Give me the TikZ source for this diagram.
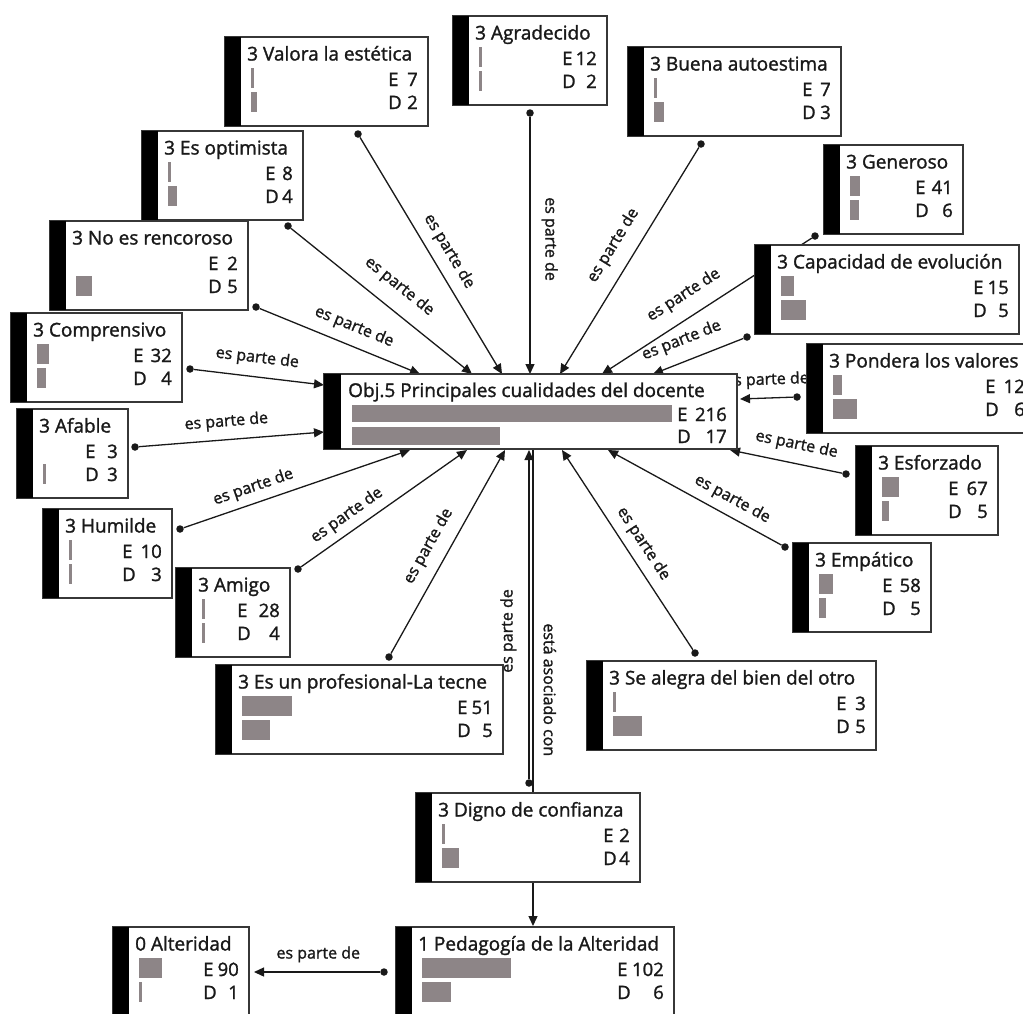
\documentclass[tikz,border=0pt]{standalone}
\usepackage{fontspec}
\setmainfont{Open Sans}[FakeBold=1.4]
\usetikzlibrary{arrows.meta,calc,backgrounds}

\definecolor{barc}{RGB}{141,133,135}
\definecolor{ink}{RGB}{25,25,25}
\definecolor{edge}{RGB}{55,55,55}

\tikzset{
  card/.style={draw=edge, line width=1.7pt, fill=white, inner sep=0pt, outer sep=0pt, anchor=north west},
  ttl/.style={anchor=base west, inner sep=0pt, text=ink, font=\fontsize{19}{21}\selectfont},
  row/.style={inner sep=0pt, text=ink, font=\fontsize{18.5}{21}\selectfont},
  dot/.style={circle, fill=ink, inner sep=0pt, minimum size=7.5pt},
  plain/.style={draw=ink, line width=1.3pt},
  conn/.style={plain, -{Triangle[length=10pt,width=9pt]}},
  rel/.style={sloped, inner sep=1pt, text=ink, font=\fontsize{16}{18}\selectfont},
}

% card: [height] name, x, y, width, title
\newcommand\qcard[6][89]{%
  \node[card, minimum width=#5pt, minimum height=#1pt] (#2) at (#3,#4) {};
  \fill[black] (#2.north west) rectangle ($(#2.south west)+(16,0)$);
  \node[ttl] (#2-t) at ($(#2.north west)+(22,23.5)$) {#6};
}
% bars and counts: name, E bar width, D bar width, E count, D count, letter offset from right edge
\newcommand\qbars[6]{%
  \ifdim#2pt>0pt \fill[barc] ($(#1.north west)+(26,31)$) rectangle ++(#2,20);\fi
  \ifdim#3pt>0pt \fill[barc] ($(#1.north west)+(26,55)$) rectangle ++(#3,20);\fi
  \node[row, anchor=base west] (#1-el) at ($(#1.north east)+(-#6,49)$) {E};
  \node[row, anchor=base east] (#1-en) at ($(#1.north east)+(-10,49)$) {#4};
  \node[row, anchor=base west] (#1-dl) at ($(#1.north east)+(-#6,72)$) {D};
  \node[row, anchor=base east] (#1-dn) at ($(#1.north east)+(-10,72)$) {#5};
}

\begin{document}
\begin{tikzpicture}[x=1pt, y=-1pt]
\useasboundingbox (0,0) rectangle (1023,1013);
\clip (0,0) rectangle (1023,1013);

% central code
\node[card, minimum width=413pt, minimum height=75pt] (obj) at (324,374) {};
\fill[black] (obj.north west) rectangle ($(obj.south west)+(17,0)$);
\node[ttl] (obj-t) at ($(obj.north west)+(24,23)$) {Obj.5 Principales cualidades del docente};
\fill[barc] ($(obj.north west)+(28,31)$) rectangle ++(320,17);
\fill[barc] ($(obj.north west)+(28,53)$) rectangle ++(148,18);
\node[row, anchor=base west] (obj-el) at ($(obj.north east)+(-60,47)$) {E};
\node[row, anchor=base east] (obj-en) at ($(obj.north east)+(-10,47)$) {216};
\node[row, anchor=base west] (obj-dl) at ($(obj.north east)+(-60,69)$) {D};
\node[row, anchor=base east] (obj-dn) at ($(obj.north east)+(-10,69)$) {17};

% surrounding codes
\qcard{valora}{225}{37}{203}{3 Valora la estética}
\qbars{valora}{2.5}{6}{7}{2}{40}
\qcard{optim}{142}{131}{161}{3 Es optimista}
\qbars{optim}{2.5}{9}{8}{4}{38}
\qcard{rencor}{50}{221}{198}{3 No es rencoroso}
\qbars{rencor}{0}{16}{2}{5}{40}
\qcard{compr}{11}{313}{171}{3 Comprensivo}
\qbars{compr}{12}{9}{32}{4}{49}
\qcard{afable}{17}{409}{111}{3 Afable}
\qbars{afable}{0}{2.5}{3}{3}{43}
\qcard{humil}{43}{509}{129}{3 Humilde}
\qbars{humil}{2.5}{2.5}{10}{3}{50}
\qcard{amigo}{176}{568}{114}{3 Amigo}
\qbars{amigo}{2.5}{2.5}{28}{4}{53}
\qcard{prof}{216}{665}{287}{3 Es un profesional-La tecne}
\qbars{prof}{50}{28}{51}{5}{46}
\qcard{digno}{416}{793}{224}{3 Digno de confianza}
\qbars{digno}{2.5}{17}{2}{4}{37}
\qcard[95]{pedag}{396}{927}{278}{1 Pedagogía de la Alteridad}
\qbars{pedag}{89}{29}{102}{6}{57}
\qcard[95]{alter}{113}{927}{136}{0 Alteridad}
\qbars{alter}{23}{2.5}{90}{1}{46}
\qcard{alegra}{587}{661}{289}{3 Se alegra del bien del otro}
\qbars{alegra}{2.5}{29}{3}{5}{40}
\qcard{empat}{793}{543}{138}{3 Empático}
\qbars{empat}{14}{7}{58}{5}{49}
\qcard{esforz}{856}{446}{142}{3 Esforzado}
\qbars{esforz}{17}{7}{67}{5}{50}
\qcard{pond}{807}{344}{228}{3 Pondera los valores}
\qbars{pond}{9}{24}{12}{6}{50}
\qcard{capac}{755}{245}{264}{3 Capacidad de evolución}
\qbars{capac}{13}{25}{15}{5}{46}
\qcard{gener}{824}{145}{139}{3 Generoso}
\qbars{gener}{10}{9}{41}{6}{48}
\qcard{buena}{628}{47}{213}{3 Buena autoestima}
\qbars{buena}{2.5}{10}{7}{3}{39}
\qcard{agrad}{453}{16}{154}{3 Agradecido}
\qbars{agrad}{2.5}{2.5}{12}{2}{45}

% link start dots
\node[dot] (d-valora) at (358,134) {};
\node[dot] (d-optim) at (288,226) {};
\node[dot] (d-rencor) at (256,307) {};
\node[dot] (d-compr) at (190,369) {};
\node[dot] (d-afable) at (135,447) {};
\node[dot] (d-humil) at (180,529) {};
\node[dot] (d-amigo) at (298,569) {};
\node[dot] (d-prof) at (389,657) {};
\node[dot] (d-digno) at (529,783) {};
\node[dot] (d-alegra) at (695,653) {};
\node[dot] (d-empat) at (785,547) {};
\node[dot] (d-esforz) at (846,474) {};
\node[dot] (d-pond) at (797,397) {};
\node[dot] (d-capac) at (747,337) {};
\node[dot] (d-gener) at (815,236) {};
\node[dot] (d-buena) at (701,144) {};
\node[dot] (d-agrad) at (530,113) {};
\node[dot] (d-pedag) at (384,972) {};

% link end points
\coordinate (a-valora) at (502,374);
\coordinate (a-optim) at (472,374);
\coordinate (a-rencor) at (420,374);
\coordinate (a-agrad) at (530,374);
\coordinate (a-buena) at (560,374);
\coordinate (a-gener) at (602,374);
\coordinate (a-capac) at (653,374);
\coordinate (a-pond) at (740,399);
\coordinate (a-esforz) at (730,450);
\coordinate (a-empat) at (608,450);
\coordinate (a-alegra) at (562,450);
\coordinate (a-digno) at (529,450);
\coordinate (a-prof) at (505,450);
\coordinate (a-amigo) at (467,450);
\coordinate (a-humil) at (410,450);
\coordinate (a-afable) at (324,432);
\coordinate (a-compr) at (324,385);
\coordinate (a-alter) at (254,972);
\coordinate (c-obot) at (533,449);
\coordinate (c-dtop) at (533,793);
\coordinate (c-dbot) at (533,882);
\coordinate (c-ptop) at (533,926);

\begin{pgfonlayer}{background}
\fill[white] (0,0) rectangle (1023,1013);
\draw[conn] (d-valora) -- node[rel, pos=.52, above=8pt] {es parte de} (a-valora);
\draw[conn] (d-optim) -- node[rel, pos=.52, above=13pt] {es parte de} (a-optim);
\draw[conn] (d-rencor) -- node[rel, pos=.545, above=9pt] {es parte de} (a-rencor);
\draw[conn] (d-compr) -- node[rel, pos=.47, above=9pt] {es parte de} (a-compr);
\draw[conn] (d-afable) -- node[rel, pos=.48, above=8pt] {es parte de} (a-afable);
\draw[conn] (d-humil) -- node[rel, pos=.33, above=6pt] {es parte de} (a-humil);
\draw[conn] (d-amigo) -- node[rel, pos=.33, above=6pt] {es parte de} (a-amigo);
\draw[conn] (d-prof) -- node[rel, pos=.48, above=10pt] {es parte de} (a-prof);
\draw[conn] (d-digno) -- node[rel, pos=.45, above=11pt] {es parte de} (a-digno);
\draw[plain] (c-obot) -- node[rel, pos=.7, above=9pt] {está asociado con} (c-dtop);
\draw[conn] (d-alegra) -- node[rel, pos=.485, above=7pt] {es parte de} (a-alegra);
\draw[conn] (d-empat) -- node[rel, pos=.33, above=7pt] {es parte de} (a-empat);
\draw[conn] (d-esforz) -- node[rel, pos=.44, above=9pt] {es parte de} (a-esforz);
\draw[conn] (d-pond) -- node[rel, pos=.48, above=8pt] {es parte de} (a-pond);
\draw[conn] (d-capac) -- node[rel, pos=.6, above=11pt] {es parte de} (a-capac);
\draw[conn] (d-gener) -- node[rel, pos=.554, above=12pt] {es parte de} (a-gener);
\draw[conn] (d-buena) -- node[rel, pos=.483, above=12pt] {es parte de} (a-buena);
\draw[conn] (d-agrad) -- node[rel, pos=.475, above=10pt] {es parte de} (a-agrad);
\draw[conn] (c-dbot) -- (c-ptop);
\draw[conn] (d-pedag) -- node[rel, pos=.49, above=8pt] {es parte de} (a-alter);
\end{pgfonlayer}
\end{tikzpicture}
\end{document}
